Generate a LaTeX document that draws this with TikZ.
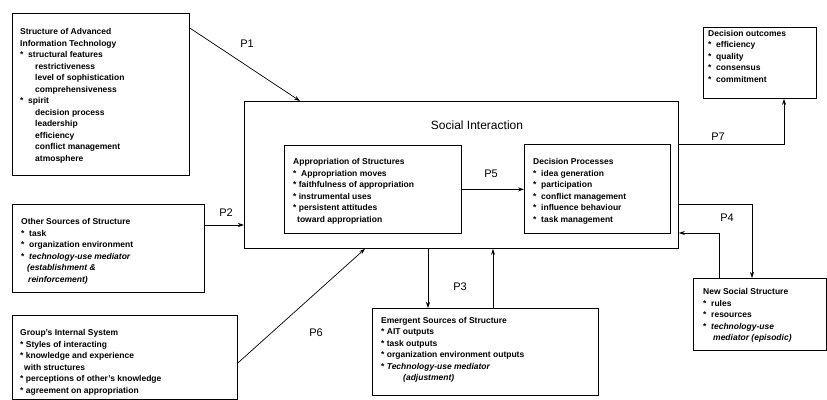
\documentclass[tikz,border=0pt]{standalone}
\usepackage{fontspec}
\setmainfont{Liberation Sans}
\usetikzlibrary{arrows.meta,calc}
\tikzset{%
  box/.style={draw,line width=0.8pt,anchor=north west,inner sep=0pt},
  txt/.style={anchor=north west,inner sep=0pt,align=left,
    font=\fontsize{8.5}{11.5}\selectfont\bfseries},
  conn/.style={line width=0.7pt,-{Stealth[length=6pt,width=4pt]}},
  lbl/.style={inner sep=0pt,font=\fontsize{11}{13}\selectfont}
}
\newcommand\ind{\hspace*{15pt}}

\begin{document}
\begin{tikzpicture}[x=1pt,y=-1pt]
  \useasboundingbox (0,0) rectangle (827,399);
  % Social interaction frame
  \node[box,minimum width=434pt,minimum height=147pt] (si) at (244,101) {};
  \node[lbl,font=\fontsize{12}{14}\selectfont] (sit) at (477,125) {Social Interaction};
  \node[box,minimum width=177pt,minimum height=88pt] (ap) at (284,145) {};
  \node[txt] (apt) at ($(ap.north west)+(9,13.5)$) {Appropriation of Structures\\
    *\ \ Appropriation moves\\
    * faithfulness of appropriation\\
    * instrumental uses\\
    * persistent attitudes\\
    \hspace*{4pt}toward appropriation};
  \node[box,minimum width=146pt,minimum height=89pt] (dp) at (524,144) {};
  \node[txt] (dpt) at ($(dp.north west)+(9,14.5)$) {Decision Processes\\
    *\ \ idea generation\\
    *\ \ participation\\
    *\ \ conflict management\\
    *\ \ influence behaviour\\
    *\ \ task management};
  % Sources of structure
  \node[box,minimum width=177pt,minimum height=162pt] (ait) at (12,13) {};
  \node[txt] (aitt) at ($(ait.north west)+(8,15.5)$) {Structure of Advanced\\
    Information Technology\\
    *\ \ structural features\\
    \ind restrictiveness\\
    \ind level of sophistication\\
    \ind comprehensiveness\\
    *\ \ spirit\\
    \ind decision process\\
    \ind leadership\\
    \ind efficiency\\
    \ind conflict management\\
    \ind atmosphere};
  \node[box,minimum width=192pt,minimum height=88pt] (os) at (12,204) {};
  \node[txt] (ost) at ($(os.north west)+(9,14.5)$) {Other Sources of Structure\\
    *\ \ task\\
    *\ \ organization environment\\
    *\ \ \textit{technology-use mediator}\\
    \hspace*{6pt}\textit{(establishment \&}\\
    \hspace*{7pt}\textit{reinforcement)}};
  \node[box,minimum width=225pt,minimum height=84pt] (gi) at (12,315) {};
  \node[txt] (git) at ($(gi.north west)+(8,14.5)$) {Group's Internal System\\
    * Styles of interacting\\
    * knowledge and experience\\
    \hspace*{4pt}with structures\\
    * perceptions of other's knowledge\\
    * agreement on appropriation};
  \node[box,minimum width=226pt,minimum height=87pt] (es) at (372,308) {};
  \node[txt] (est) at ($(es.north west)+(9,9)$) {Emergent Sources of Structure\\
    * AIT outputs\\
    * task outputs\\
    * organization environment outputs\\
    * \textit{Technology-use mediator}\\
    \hspace*{22pt}\textit{(adjustment)}};
  % Outcomes
  \node[box,minimum width=113pt,minimum height=71pt] (do) at (703,27) {};
  \node[txt] (dot) at ($(do.north west)+(5,3)$) {Decision outcomes\\
    *\ \ efficiency\\
    *\ \ quality\\
    *\ \ consensus\\
    *\ \ commitment};
  \node[box,minimum width=133pt,minimum height=72pt] (ns) at (693,278) {};
  \node[txt] (nst) at ($(ns.north west)+(10,10.5)$) {New Social Structure\\
    *\ \ rules\\
    *\ \ resources\\
    *\ \ \textit{technology-use}\\
    \hspace*{10pt}\textit{mediator (episodic)}};
  % Connectors
  \draw[conn] ([yshift=-15pt]ait.north east) -- ([xshift=56pt]si.north west);
  \coordinate (p2s) at ([yshift=-21pt]os.north east);
  \draw[conn] (p2s) -- (p2s -| si.west);
  \draw[conn] ([yshift=-48pt]gi.north east) -- ([xshift=121pt]si.south west);
  \draw[conn] (ap.east) -- (ap.east -| dp.west);
  \coordinate (p3d) at ([xshift=184pt]si.south west);
  \draw[conn] (p3d) -- (p3d |- es.north);
  \coordinate (p3u) at ([xshift=121pt]es.north west);
  \draw[conn] (p3u) -- (p3u |- si.south);
  \coordinate (p7s) at ([yshift=-43pt]si.north east);
  \coordinate (p7e) at ([xshift=81pt]do.south west);
  \draw[conn] (p7s) -| (p7e);
  \coordinate (p4s) at ([yshift=-103pt]si.north east);
  \coordinate (p4e) at ([xshift=59pt]ns.north west);
  \draw[conn] (p4s) -| (p4e);
  \coordinate (p4b) at ([xshift=26pt]ns.north west);
  \coordinate (p4r) at ([yshift=-132pt]si.north east);
  \draw[conn] (p4b) |- (p4r);
  % Labels
  \node[lbl] (p1) at (247,44) {P1};
  \node[lbl] (p2) at (226,213) {P2};
  \node[lbl] (p3) at (460,287) {P3};
  \node[lbl] (p4) at (727,218) {P4};
  \node[lbl] (p5) at (491,174) {P5};
  \node[lbl] (p6) at (316,333) {P6};
  \node[lbl] (p7) at (718,137) {P7};
\end{tikzpicture}
\end{document}
